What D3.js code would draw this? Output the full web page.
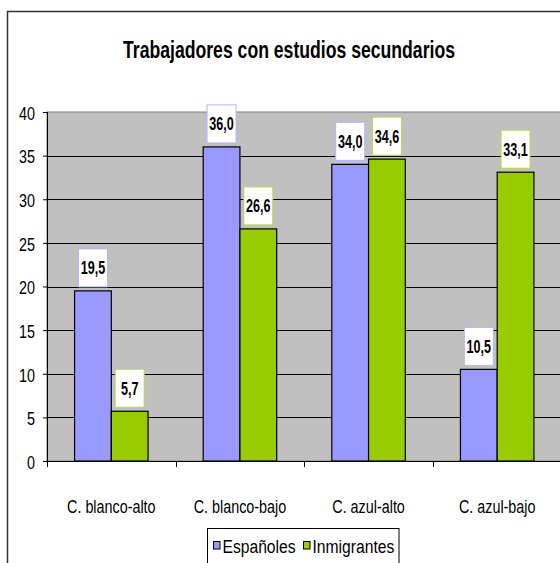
<!DOCTYPE html>
<html>
<head>
<meta charset="utf-8">
<script src="https://cdn.jsdelivr.net/npm/d3@7"></script>
<style>
  html, body { margin: 0; padding: 0; background: #fff; }
  svg { display: block; }
  text { font-family: "Liberation Sans", Arial, sans-serif; }
</style>
</head>
<body>
<svg id="chart" width="560" height="563"></svg>
<script>
const title = "Trabajadores con estudios secundarios";
const categories = ["C. blanco-alto", "C. blanco-bajo", "C. azul-alto", "C. azul-bajo"];
const seriesNames = ["Españoles", "Inmigrantes"];
const espanoles = [19.5, 36.0, 34.0, 10.5];
const inmigrantes = [5.7, 26.6, 34.6, 33.1];
const yTicks = [0, 5, 10, 15, 20, 25, 30, 35, 40];

const colors = { "Españoles": "#9999FF", "Inmigrantes": "#99CC00" };
const labelBorders = { "Españoles": "#B4B4FF", "Inmigrantes": "#B2D94C" };

const svg = d3.select("#chart");
const plot = { left: 47, top: 112, right: 561.5, bottom: 461 };

// helper: horizontally condensed text
function ctext(sel, x, y, sx, str) {
  return sel.append("text")
    .attr("transform", `translate(${x},${y}) scale(${sx},1)`)
    .attr("fill", "#000")
    .text(str);
}

// outer chart border
svg.append("rect")
  .attr("x", 7.5).attr("y", 11.5)
  .attr("width", 600).attr("height", 600)
  .attr("fill", "#fff").attr("stroke", "#333").attr("stroke-width", 1.5);

// title
ctext(svg, 289, 57.5, 0.75, title)
  .attr("text-anchor", "middle")
  .attr("font-weight", "bold")
  .attr("font-size", "23.5px");

const x0 = d3.scaleBand().domain(categories).range([plot.left, plot.right]).paddingInner(0).paddingOuter(0);
const bw = x0.bandwidth() / 3.5;
const x1 = d3.scaleBand().domain(seriesNames).range([0, 2 * bw]);
const y = d3.scaleLinear().domain([0, 40]).range([plot.bottom, plot.top]);

// plot background
svg.append("rect")
  .attr("x", plot.left).attr("y", plot.top)
  .attr("width", plot.right - plot.left).attr("height", plot.bottom - plot.top)
  .attr("fill", "#C0C0C0").attr("stroke", "#808080").attr("stroke-width", 1);

// gridlines
svg.append("g").selectAll("line")
  .data(yTicks.filter(d => d > 0 && d < 40))
  .join("line")
  .attr("x1", plot.left).attr("x2", plot.right)
  .attr("y1", d => Math.round(y(d)) + 0.5).attr("y2", d => Math.round(y(d)) + 0.5)
  .attr("stroke", "#000").attr("stroke-width", 1);

// bars
const data = categories.map((c, i) => ({ cat: c, vals: [
  { s: "Españoles", v: espanoles[i] },
  { s: "Inmigrantes", v: inmigrantes[i] }
]}));

const groups = svg.append("g").selectAll("g")
  .data(data).join("g")
  .attr("transform", d => `translate(${x0(d.cat) + (x0.bandwidth() - 2 * bw) / 2},0)`);

groups.selectAll("rect")
  .data(d => d.vals).join("rect")
  .attr("x", d => x1(d.s)).attr("width", x1.bandwidth())
  .attr("y", d => y(d.v)).attr("height", d => y(0) - y(d.v))
  .attr("fill", d => colors[d.s]).attr("stroke", "#000").attr("stroke-width", 1.2);

// data labels
const fmt = v => v.toFixed(1).replace(".", ",");
const lab = groups.selectAll("g.lab")
  .data(d => d.vals).join("g").attr("class", "lab")
  .attr("transform", d => `translate(${x1(d.s) + x1.bandwidth() / 2},${y(d.v) - 4})`);
lab.append("rect")
  .attr("x", -14.5).attr("y", -38).attr("width", 29).attr("height", 38)
  .attr("fill", "#fff").attr("stroke", d => labelBorders[d.s]).attr("stroke-width", 1);
lab.each(function(d) {
  ctext(d3.select(this), 0, -12.5, 0.7, fmt(d.v))
    .attr("text-anchor", "middle")
    .attr("font-weight", "bold").attr("font-size", "18px");
});

// y axis
const yAxis = svg.append("g").attr("transform", `translate(${plot.left},0)`)
  .call(d3.axisLeft(y).tickValues(yTicks).tickSize(4).tickPadding(10.6).tickFormat(d3.format("d")));
yAxis.select(".domain").attr("stroke", "#000").attr("d", `M0.5,${plot.top}V${plot.bottom}`);
yAxis.selectAll(".tick line").attr("stroke", "#000");
yAxis.selectAll(".tick text")
  .attr("font-size", "17.5px").attr("fill", "#000").attr("dy", "0.42em")
  .attr("transform", "scale(0.82,1)")
  .style("font-family", '"Liberation Sans", Arial, sans-serif');

// x axis
const xAxisG = svg.append("g").attr("transform", `translate(0,${plot.bottom})`);
xAxisG.append("line")
  .attr("x1", plot.left).attr("x2", plot.right)
  .attr("y1", 0.5).attr("y2", 0.5).attr("stroke", "#000");
xAxisG.selectAll("line.tk")
  .data(categories.map(c => x0(c)))
  .join("line").attr("class", "tk")
  .attr("x1", d => Math.round(d) + 0.5).attr("x2", d => Math.round(d) + 0.5)
  .attr("y1", 0).attr("y2", 6).attr("stroke", "#000");
categories.forEach(c => {
  ctext(xAxisG, x0(c) + x0.bandwidth() / 2, 52, 0.82, c)
    .attr("text-anchor", "middle")
    .attr("font-size", "17.5px");
});

// legend
const leg = svg.append("g");
leg.append("rect")
  .attr("x", 207.5).attr("y", 528.5).attr("width", 191.5).attr("height", 50)
  .attr("fill", "#fff").attr("stroke", "#000").attr("stroke-width", 1);
const legX = [213.5, 303.5];
seriesNames.forEach((s, i) => {
  leg.append("rect")
    .attr("x", legX[i]).attr("y", 541.5).attr("width", 6.5).attr("height", 7.5)
    .attr("fill", colors[s]).attr("stroke", "#000").attr("stroke-width", 1);
  ctext(leg, legX[i] + 9, 553, 0.87, s)
    .attr("font-size", "18px");
});
</script>
</body>
</html>
